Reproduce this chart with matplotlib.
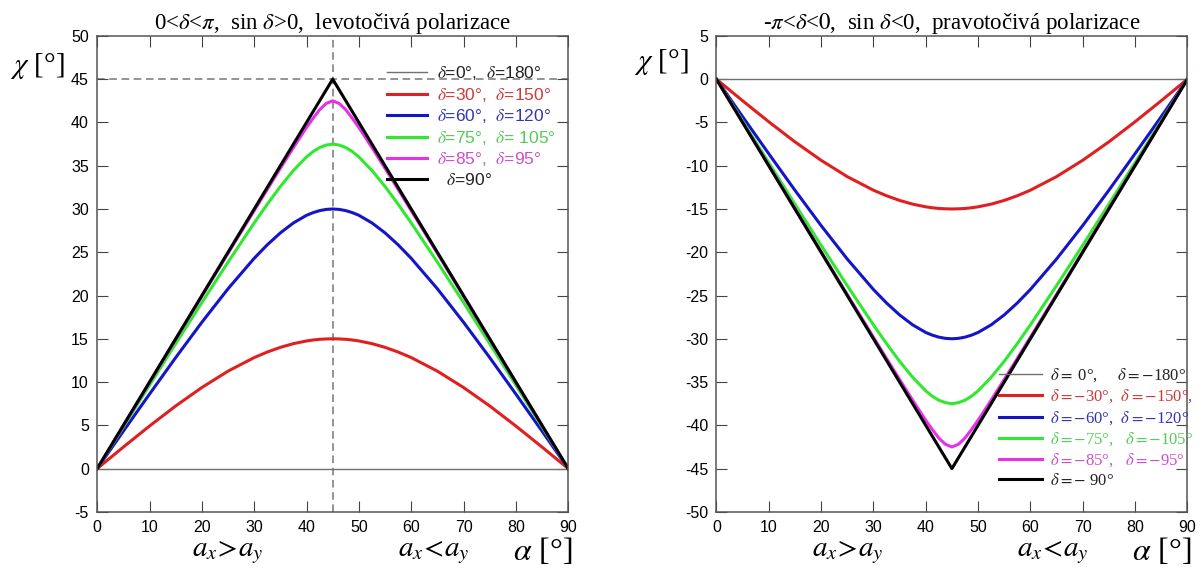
import matplotlib
matplotlib.use("Agg")
from matplotlib import pyplot as plt

plt.rcParams['font.family'] = 'Liberation Sans'
plt.rcParams['mathtext.fontset'] = 'stix'
plt.rcParams['axes.unicode_minus'] = False

# azimuth alpha (deg) and ellipticity chi (deg)
alpha = [0, 5, 10, 15, 20, 25, 30, 32.5, 35, 37.5, 40, 41.25, 42.5, 43.75, 45,
         46.25, 47.5, 48.75, 50, 52.5, 55, 57.5, 60, 65, 70, 75, 80, 85, 90]
chi_30 = [0, 2.49, 4.92, 7.24, 9.37, 11.26, 12.83, 13.47, 14.01, 14.44, 14.75, 14.86, 14.94, 14.98, 15.0,
          14.98, 14.94, 14.86, 14.75, 14.44, 14.01, 13.47, 12.83, 11.26, 9.37, 7.24, 4.92, 2.49, 0]
chi_60 = [0, 4.33, 8.61, 12.83, 16.91, 20.78, 24.30, 25.86, 27.24, 28.39, 29.27, 29.58, 29.81, 29.95, 30.0,
          29.95, 29.81, 29.58, 29.27, 28.39, 27.24, 25.86, 24.30, 20.78, 16.91, 12.83, 8.61, 4.33, 0]
chi_75 = [0, 4.83, 9.64, 14.44, 19.19, 23.86, 28.39, 30.55, 32.60, 34.45, 36.02, 36.63, 37.10, 37.38, 37.5,
          37.38, 37.10, 36.63, 36.02, 34.45, 32.60, 30.55, 28.39, 23.86, 19.19, 14.44, 9.64, 4.83, 0]
chi_85 = [0, 4.98, 9.96, 14.94, 19.91, 24.87, 29.81, 32.27, 34.70, 37.10, 39.42, 40.48, 41.47, 42.19, 42.5,
          42.19, 41.47, 40.48, 39.42, 37.10, 34.70, 32.27, 29.81, 24.87, 19.91, 14.94, 9.96, 4.98, 0]
alpha_90 = [0, 45, 90]
chi_90 = [0, 45, 0]
alpha_0 = [0, 90]
chi_0 = [0, 0]

labels_left = [r'$\delta$=0°,  $\delta$=180°', r'$\delta$=30°,  $\delta$=150°',
               r'$\delta$=60°,  $\delta$=120°', r'$\delta$=75°,  $\delta$= 105°',
               r'$\delta$=85°,  $\delta$=95°', r'  $\delta$=90°']
labels_right = [r'$\delta=$ 0°,     $\delta=-$180°', r'$\delta=-$30°,  $\delta=-$150°,',
                r'$\delta=-$60°,  $\delta=-$120°', r'$\delta=-$75°,   $\delta=-$105°',
                r'$\delta=-$85°,   $\delta=-$95°', r'$\delta=-$ 90°']

line_cols = ['#707070', '#e02020', '#1515c8', '#30e830', '#e830e8', 'black']
text_cols = ['#222222', '#cc3a3a', '#3535b0', '#55cc55', '#cc50cc', '#222222']

fig = plt.figure(figsize=(12, 5.7), dpi=100)
ax1 = fig.add_axes([0.081, 0.102, 0.3925, 0.835])
ax2 = fig.add_axes([0.597, 0.102, 0.3925, 0.835])


def draw(ax, sign):
    curves = [chi_30, chi_60, chi_75, chi_85]
    ax.plot(alpha_0, chi_0, color=line_cols[0], lw=1)
    for c, col in zip(curves, line_cols[1:5]):
        ax.plot(alpha, [sign * v for v in c], color=col, lw=2.2)
    ax.plot(alpha_90, [sign * v for v in chi_90], color='black', lw=2.2)
    ax.set_xlim(0, 90)
    ax.set_xticks(range(0, 91, 10))
    ax.tick_params(direction='in', length=8, top=True, right=True,
                   labelsize=11.5, color='#444444', pad=6)
    for s in ax.spines.values():
        s.set_color('#555555')
        s.set_linewidth(1.1)


draw(ax1, 1)
ax1.set_ylim(-5, 50)
ax1.set_yticks(range(-5, 51, 5))
ax1.axhline(45, color='#777777', lw=1.1, ls=(0, (5, 3)), zorder=0)
ax1.axvline(45, color='#777777', lw=1.1, ls=(0, (5, 3)), zorder=0)
ax1.set_title(r'0<$\delta$<$\pi$,  sin $\delta$>0,  levotočivá polarizace',
              family='Liberation Serif', fontsize=16.5, pad=5)
leg1 = ax1.legend(labels_left, loc='upper left', bbox_to_anchor=(0.6, 0.955),
                  frameon=False, fontsize=12.5, handlelength=2.3,
                  labelspacing=0.2, handletextpad=0.6, borderaxespad=0)
for t, c in zip(leg1.get_texts(), text_cols):
    t.set_color(c)

draw(ax2, -1)
ax2.set_ylim(-50, 5)
ax2.set_yticks(range(-50, 6, 5))
ax2.set_title(r'-$\pi$<$\delta$<$0$,  sin $\delta$<0,  pravotočivá polarizace',
              family='Liberation Serif', fontsize=16.5, pad=5)
leg2 = ax2.legend(labels_right, loc='upper left', bbox_to_anchor=(0.585, 0.32),
                  frameon=False, prop={'family': 'Liberation Serif', 'size': 12},
                  handlelength=2.6, labelspacing=0.22, handletextpad=0.5,
                  borderaxespad=0)
for t, c in zip(leg2.get_texts(), text_cols):
    t.set_color(c)

for ax, xl, yl in [(ax1, -0.185, 0.936), (ax2, -0.176, 0.946)]:
    ax.text(xl, yl, r'$\chi$ [°]', transform=ax.transAxes, fontsize=21,
            family='Liberation Serif', ha='left', va='center')
    ax.text(0.945, -0.083, r'$\alpha$ [°]', transform=ax.transAxes, fontsize=23,
            family='Liberation Serif', ha='center', va='center')
    ax.text(0.278, -0.085, r'$a_x\!>\!a_y$', transform=ax.transAxes, fontsize=21,
            ha='center', va='center')
    ax.text(0.715, -0.085, r'$a_x\!<\!a_y$', transform=ax.transAxes, fontsize=21,
            ha='center', va='center')

fig.savefig('out.png', dpi=100)
